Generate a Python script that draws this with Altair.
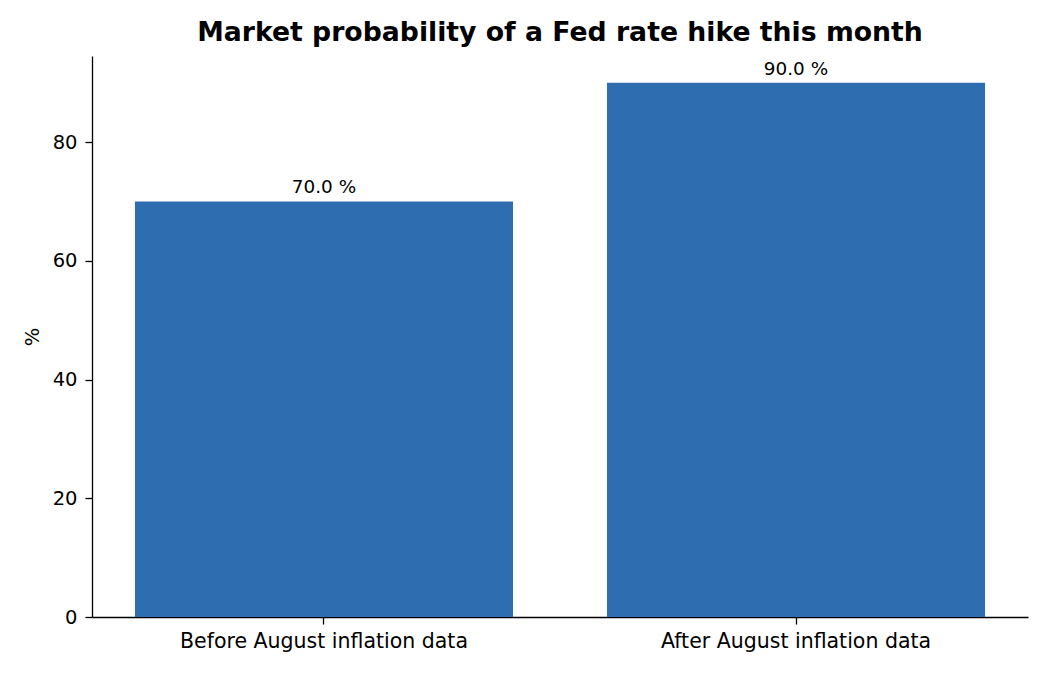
import altair as alt
import pandas as pd

categories = ["Before August inflation data", "After August inflation data"]
values = [70.0, 90.0]
bar_labels = ["70.0 %", "90.0 %"]

df = pd.DataFrame({"cat": categories, "val": values, "lab": bar_labels})

FONT = "DejaVu Sans"
x = alt.X("cat:N", sort=categories, title=None,
          scale=alt.Scale(paddingInner=0.199, paddingOuter=0.091),
          axis=alt.Axis(labelAngle=0, labelFontSize=20.5, labelFont=FONT, labelColor="black",
                        labelLimit=0, tickSize=7, tickColor="black", domainColor="black", labelPadding=7,
                        domainWidth=1.3, tickWidth=1.3))
y = alt.Y("val:Q", title="%", scale=alt.Scale(domain=[0, 94.5], nice=False),
          axis=alt.Axis(values=[0, 20, 40, 60, 80], grid=False, labelFontSize=19.5, labelFont=FONT,
                        labelColor="black", tickSize=7, tickColor="black", domainColor="black",
                        titleFont=FONT, titleFontSize=19.5, titleFontWeight="normal", titleColor="black",
                        labelPadding=8, titlePadding=10, domainWidth=1.3, tickWidth=1.3))

bars = alt.Chart(df).mark_bar(color="#2d6db0").encode(x=x, y=y)
text = alt.Chart(df).mark_text(baseline="alphabetic", dy=-8, font=FONT, fontSize=18.4, color="black").encode(
    x=alt.X("cat:N", sort=categories), y="val:Q", text="lab:N")

chart = (bars + text).properties(
    width=936, height=561,
    background="white",
    title=alt.TitleParams("Market probability of a Fed rate hike this month", font=FONT,
                          fontSize=26.7, fontWeight="bold", color="black", offset=9),
    autosize=alt.AutoSizeParams(type="none"),
    padding={"left": 84, "top": 48, "right": 14, "bottom": 50},
).configure_view(strokeWidth=0, stroke=None)

chart.save("out.html", embed_options={"renderer": "svg", "actions": False})
